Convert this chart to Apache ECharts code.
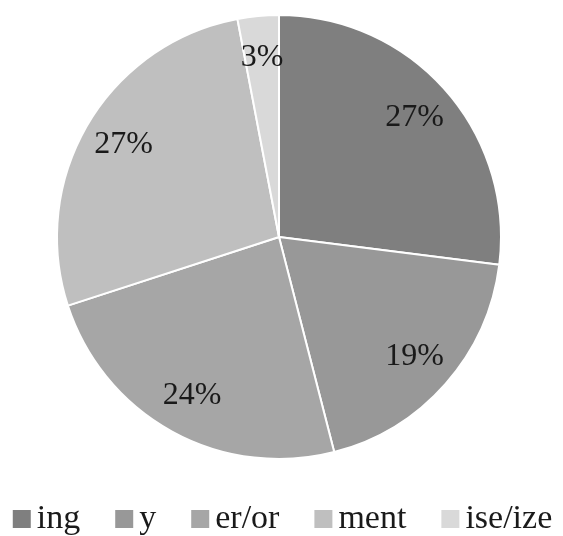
<!DOCTYPE html>
<html>
<head>
<meta charset="utf-8">
<script src="https://cdn.jsdelivr.net/npm/echarts@6/dist/echarts.min.js"></script>
<style>
  html, body { margin: 0; padding: 0; background: #fff; }
  #chart { width: 563px; height: 536px; }
</style>
</head>
<body>
<div id="chart"></div>
<script>
// Share of each suffix group
var categories = ['ing', 'y', 'er/or', 'ment', 'ise/ize'];
var shares = [27, 19, 24, 27, 3];
var sliceColors = ['#7f7f7f', '#989898', '#a6a6a6', '#bfbfbf', '#d9d9d9'];

var FONT = '"Liberation Serif", "Times New Roman", serif';
var CENTER = [279, 237];
var R = 222;

var slices = categories.map(function (name, i) {
  return { name: name, value: shares[i], itemStyle: { color: sliceColors[i] } };
});

// Transparent ring used only to place the percentage labels near the rim
var labelRing = categories.map(function (name, i) {
  return { name: name, value: shares[i] };
});

var chart = echarts.init(document.getElementById('chart'), null, { renderer: 'canvas' });
chart.setOption({
  backgroundColor: '#ffffff',
  animation: false,
  legend: {
    data: categories,
    left: 'center',
    top: 497,
    icon: 'rect',
    itemWidth: 20,
    itemHeight: 20,
    itemGap: 33,
    textStyle: { fontFamily: FONT, fontSize: 34, color: '#1a1a1a' }
  },
  series: [
    {
      type: 'pie',
      center: CENTER,
      radius: [0, R],
      startAngle: 90,
      clockwise: true,
      silent: true,
      label: { show: false },
      labelLine: { show: false },
      itemStyle: { borderColor: '#ffffff', borderWidth: 2 },
      data: slices
    },
    {
      type: 'pie',
      center: CENTER,
      radius: [R * 0.6, R],
      startAngle: 90,
      clockwise: true,
      silent: true,
      legendHoverLink: false,
      itemStyle: { color: 'rgba(0,0,0,0)', borderWidth: 0 },
      label: {
        show: true,
        position: 'inside',
        formatter: function (p) { return p.value + '%'; },
        fontFamily: FONT,
        fontSize: 32,
        color: '#1a1a1a'
      },
      labelLine: { show: false },
      data: labelRing
    }
  ]
});
</script>
</body>
</html>
